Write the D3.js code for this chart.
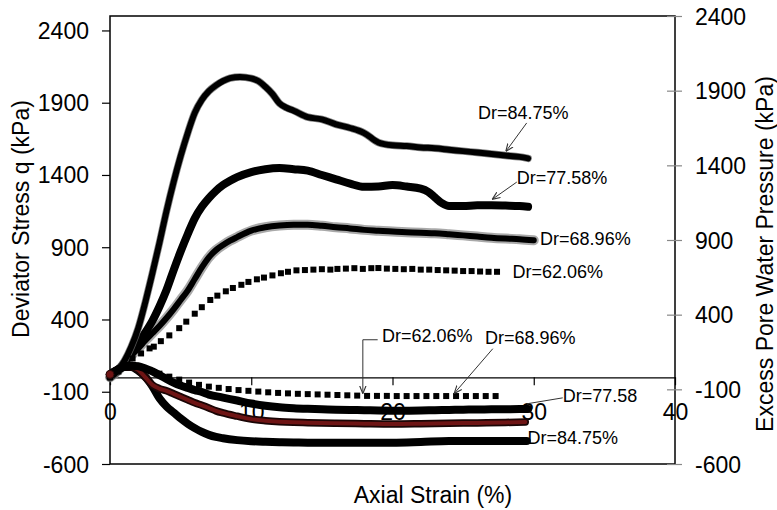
<!DOCTYPE html>
<html>
<head>
<meta charset="utf-8">
<script src="https://cdn.jsdelivr.net/npm/d3@7"></script>
<style>
  body { margin: 0; background: #fff; }
  svg { display: block; }
  text { font-family: "Liberation Sans", Arial, sans-serif; fill: #000; }
</style>
</head>
<body>
<svg id="chart" width="777" height="510"></svg>
<script>
// Deviator stress q (kPa) vs axial strain (%) — left axis
const devStress8475 = [[0,0],[0.5,40],[1,110],[1.5,210],[2,340],[2.5,520],[3,720],[3.5,930],[4,1150],[4.5,1350],[5,1530],[5.5,1690],[6,1830],[6.5,1920],[7,1980],[7.5,2020],[8,2050],[8.5,2070],[9.2,2078],[10,2068],[10.5,2050],[11,2010],[11.5,1960],[12,1895],[12.5,1865],[13,1845],[14,1800],[15,1785],[16,1750],[17,1725],[18,1690],[19,1625],[20,1605],[21,1600],[22,1590],[23,1585],[24,1575],[25,1565],[26,1555],[27,1545],[28,1535],[29,1525],[29.6,1515]];
const devStress7758 = [[0,0],[0.5,40],[1,100],[1.5,170],[2,240],[2.5,310],[3,390],[3.5,490],[4,604],[4.5,740],[5,870],[5.5,990],[6,1100],[6.5,1180],[7,1240],[7.5,1290],[8,1330],[8.5,1360],[9,1385],[10,1420],[11,1440],[12,1448],[13,1440],[14,1430],[15,1400],[16,1370],[17,1340],[18,1318],[19,1320],[20,1330],[21,1320],[22,1305],[22.5,1285],[23,1245],[23.5,1205],[24,1185],[25,1185],[26,1190],[27,1190],[28,1188],[29,1185],[29.6,1180]];
const devStress6896 = [[0,0],[0.5,40],[1,90],[1.5,150],[2,200],[2.5,255],[3,305],[3.5,355],[4,410],[4.5,470],[5,535],[5.5,600],[6,680],[6.5,760],[7,830],[7.5,880],[8,915],[8.5,945],[9,970],[10,1015],[11,1038],[12,1050],[13,1055],[14,1055],[15,1048],[16,1038],[17,1030],[18,1020],[19,1014],[20,1008],[21,1004],[22,1000],[23,997],[24,990],[25,982],[26,974],[27,966],[28,960],[29,955],[30,948]];
const devStress6206 = [[0,0],[0.6,40],[1,75],[1.6,130],[2.2,165],[2.8,200],[3.1,212],[3.6,250],[4.2,290],[4.9,340],[5.4,385],[6,440],[6.5,485],[7.1,535],[7.6,565],[8.2,595],[8.7,618],[9.3,640],[9.8,660],[10.4,678],[10.9,690],[11.5,705],[12.1,720],[12.6,730],[13.2,740],[13.8,742],[14.4,745],[15,748],[15.6,745],[16.1,750],[16.7,752],[17.3,755],[17.9,750],[18.5,755],[19,756],[19.6,752],[20.2,750],[20.8,748],[21.4,750],[22,745],[22.6,745],[23.2,742],[23.8,740],[24.4,738],[25,735],[25.6,735],[26.2,732],[26.8,730],[27.4,730]];

// Excess pore water pressure (kPa) vs axial strain (%) — right axis
const pwp6206 = [[0,0],[0.7,35],[1.4,55],[2.1,50],[2.8,30],[3.5,5],[4.2,-15],[4.9,-35],[5.6,-55],[6.3,-70],[7,-82],[7.7,-90],[8.4,-98],[9.1,-105],[9.8,-110],[10.5,-115],[11.2,-120],[11.9,-124],[12.6,-127],[13.3,-130],[14,-132],[14.7,-134],[15.4,-136],[16.1,-138],[16.8,-140],[17.5,-142],[18.2,-144],[18.9,-144],[19.6,-144],[20.3,-145],[21,-145],[21.7,-145],[22.4,-145],[23.1,-145],[23.8,-145],[24.5,-145],[25.2,-145],[25.9,-145],[26.6,-145],[27.3,-145]];
const pwp6896 = [[0,0],[0.5,30],[1,50],[1.5,58],[2,55],[2.5,40],[3,20],[3.5,-5],[4,-30],[4.5,-55],[5,-75],[5.5,-90],[6,-105],[6.5,-118],[7,-135],[8,-155],[9,-175],[10,-195],[11,-210],[12,-220],[13,-226],[14,-230],[15,-233],[16,-236],[17,-238],[18,-240],[19,-242],[20,-243],[21,-243],[22,-242],[23,-240],[24,-238],[25,-236],[26,-235],[27,-234],[28,-233],[29,-232],[29.6,-232]];
const pwp7758 = [[0,0],[0.5,30],[1,50],[1.5,50],[2,30],[2.5,-20],[3,-70],[3.5,-95],[4,-110],[4.5,-130],[5,-150],[5.5,-170],[6,-190],[6.5,-207],[7,-225],[7.5,-244],[8,-258],[9,-280],[9.9,-298],[11,-310],[12,-317],[13,-321],[14,-323],[16,-327],[18,-330],[20,-332],[22,-330],[24,-327],[26,-325],[28,-322],[29.4,-318]];
const pwp8475 = [[0,0],[0.5,30],[1,50],[1.5,50],[2,25],[2.5,-15],[3,-80],[3.5,-160],[4,-215],[4.5,-255],[5,-295],[5.5,-330],[6,-360],[6.5,-385],[7,-405],[7.5,-419],[8,-428],[9,-440],[10,-447],[11,-451],[12,-454],[13,-456],[14,-457],[16,-458],[18,-458],[20,-457],[22,-452],[24,-446],[26,-446],[28,-446],[29.5,-446]];

// Tick labels
const strainTicks = [0, 10, 20, 30, 40];
const stressTicks = [-600, -100, 400, 900, 1400, 1900, 2400];
const pwpTicks = [-600, -100, 400, 900, 1400, 1900, 2400];

// Curve labels (positions in data units: strain, axis value)
const stressLabels = [
  { text: "Dr=84.75%", at: [26.05, 1787], arrow: [[29.5, 1760], [28.05, 1566]] },
  { text: "Dr=77.58%", at: [28.8, 1338], arrow: [[28.8, 1351], [27.1, 1234]] },
  { text: "Dr=68.96%", at: [30.45, 915] },
  { text: "Dr=62.06%", at: [28.5, 687] }
];
const pwpLabels = [
  { text: "Dr=62.06%", at: [19.25, 219], arrow: [[18.95, 232], [17.9, 232], [17.9, -124]] },
  { text: "Dr=68.96%", at: [26.55, 205], arrow: [[27.1, 172], [24.4, -124]] },
  { text: "Dr=77.58", at: [32.05, -184], line: [[32.05, -157], [29.5, -197]] },
  { text: "Dr=84.75%", at: [29.55, -466] }
];

const svg = d3.select("#chart");
const plot = { left: 110, right: 675, top: 16, bottom: 464 };
const FONT = '"Liberation Sans", Arial, sans-serif';
const plain = d => String(d);

const x = d3.scaleLinear().domain([0, 40]).range([plot.left, plot.right]);
const yL = d3.scaleLinear().domain([-600, 2500]).range([plot.bottom, plot.top]);
const yR = d3.scaleLinear().domain([-600, 2400]).range([plot.bottom, plot.top]);

svg.append("defs").append("marker")
  .attr("id", "arrowHead")
  .attr("viewBox", "0 0 10 10")
  .attr("refX", 9).attr("refY", 5)
  .attr("markerWidth", 8).attr("markerHeight", 8)
  .attr("markerUnits", "userSpaceOnUse")
  .attr("orient", "auto")
  .append("path")
  .attr("d", "M0,1 L10,5 L0,9")
  .attr("fill", "none").attr("stroke", "#333").attr("stroke-width", 1.4);

// Frame
svg.append("rect")
  .attr("x", plot.left).attr("y", plot.top)
  .attr("width", plot.right - plot.left).attr("height", plot.bottom - plot.top)
  .attr("fill", "none").attr("stroke", "#000").attr("stroke-width", 1.5);

function styleTickText(g) {
  g.selectAll(".tick text")
    .attr("dy", null)
    .style("font-size", "23px").style("font-family", FONT)
    .attr("fill", "#000");
}

// Left axis
const gL = svg.append("g").attr("transform", `translate(${plot.left},0)`)
  .call(d3.axisLeft(yL).tickValues(stressTicks).tickFormat(plain).tickSize(8).tickSizeOuter(0));
gL.select(".domain").remove();
gL.selectAll(".tick line").attr("stroke", "#000").attr("stroke-width", 1.2);
styleTickText(gL);
gL.selectAll(".tick text").attr("x", -21).attr("y", 8);

// Right axis
const gR = svg.append("g").attr("transform", `translate(${plot.right},0)`)
  .call(d3.axisRight(yR).tickValues(pwpTicks).tickFormat(plain).tickSize(7).tickSizeOuter(0));
gR.select(".domain").remove();
gR.selectAll(".tick line").attr("x1", -8).attr("x2", 7).attr("stroke", "#888").attr("stroke-width", 1.2);
styleTickText(gR);
gR.selectAll(".tick text").attr("x", 20).attr("y", 8);

// Strain axis through q = 0
const gX = svg.append("g").attr("transform", `translate(0,${yL(0)})`)
  .call(d3.axisBottom(x).tickValues(strainTicks).tickFormat(plain).tickSize(8).tickSizeOuter(0));
gX.select(".domain").attr("stroke", "#000").attr("stroke-width", 1.2);
gX.selectAll(".tick line").attr("stroke", "#000").attr("stroke-width", 1.2);
styleTickText(gX);
gX.selectAll(".tick text").attr("y", 43);

// Axis titles
svg.append("text")
  .attr("transform", "translate(29,219) rotate(-90)")
  .attr("text-anchor", "middle").style("font-size", "23px")
  .text("Deviator Stress q (kPa)");
svg.append("text")
  .attr("transform", "translate(773,254) rotate(-90)")
  .attr("text-anchor", "middle").style("font-size", "23px")
  .text("Excess Pore Water Pressure (kPa)");
svg.append("text")
  .attr("x", 433).attr("y", 503)
  .attr("text-anchor", "middle").style("font-size", "23px")
  .text("Axial Strain (%)");

// Curves
const lineL = d3.line().x(d => x(d[0])).y(d => yL(d[1])).curve(d3.curveMonotoneX);
const lineR = d3.line().x(d => x(d[0])).y(d => yR(d[1])).curve(d3.curveMonotoneX);
const curves = svg.append("g").attr("fill", "none").attr("stroke-linecap", "round").attr("stroke-linejoin", "round");

function strokePath(data, line, color, width, opacity) {
  curves.append("path").datum(data).attr("d", line)
    .attr("stroke", color).attr("stroke-width", width)
    .attr("stroke-opacity", opacity == null ? 1 : opacity);
}

// deviator stress
strokePath(devStress6896, lineL, "#9a9a9a", 10, 0.85);
strokePath(devStress6896, lineL, "#000", 6);
strokePath(devStress7758, lineL, "#000", 8);
strokePath(devStress8475, lineL, "#666", 7.5, 0.8);
strokePath(devStress8475, lineL, "#000", 6);

svg.append("g").selectAll("rect").data(devStress6206).join("rect")
  .attr("x", d => x(d[0]) - 3).attr("y", d => yL(d[1]) - 3)
  .attr("width", 6).attr("height", 6).attr("fill", "#000");

// pore water pressure
strokePath(pwp8475, lineR, "#000", 8);
strokePath(pwp7758, lineR, "#1a0505", 7.5);
strokePath(pwp7758, lineR, "#6e1414", 4);
strokePath(pwp6896, lineR, "#000", 8);

svg.append("g").selectAll("rect").data(pwp6206).join("rect")
  .attr("x", d => x(d[0]) - 3).attr("y", d => yR(d[1]) - 3)
  .attr("width", 6).attr("height", 6).attr("fill", "#000");

svg.append("circle")
  .attr("cx", x(pwp7758[0][0])).attr("cy", yR(pwp7758[0][1]))
  .attr("r", 4).attr("fill", "#6e1414").attr("stroke", "#2a0808").attr("stroke-width", 1);

// Labels with leaders
const ann = svg.append("g");
function drawLabels(labels, y) {
  const path = d3.line().x(d => x(d[0])).y(d => y(d[1]));
  labels.forEach(l => {
    const pts = l.arrow || l.line;
    if (pts) {
      ann.append("path").attr("d", path(pts))
        .attr("fill", "none").attr("stroke", "#333").attr("stroke-width", 1)
        .attr("marker-end", l.arrow ? "url(#arrowHead)" : null);
    }
    ann.append("text")
      .attr("x", x(l.at[0])).attr("y", y(l.at[1]))
      .style("font-size", "18px")
      .text(l.text);
  });
}
drawLabels(stressLabels, yL);
drawLabels(pwpLabels, yR);
</script>
</body>
</html>
